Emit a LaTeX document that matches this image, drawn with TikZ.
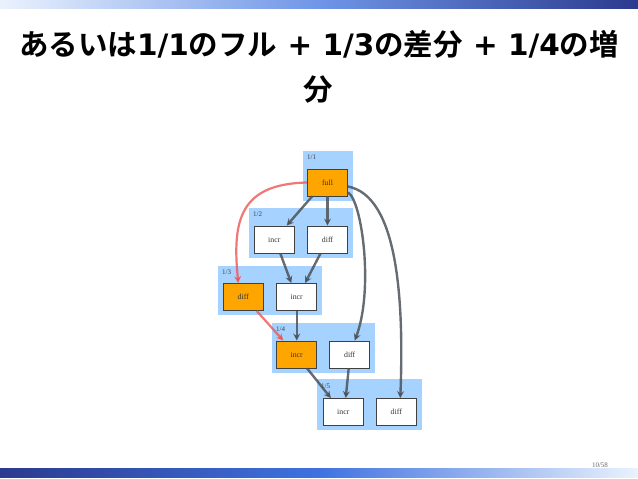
\documentclass[tikz,border=0pt]{standalone}
\usepackage{fontspec}
\setmainfont{DejaVu Sans}
\newfontfamily\jp{Noto Sans CJK JP}[BoldFont={Noto Sans CJK JP Bold}]
\newfontfamily\lbl{Liberation Serif}
\usetikzlibrary{arrows.meta,calc}
\definecolor{clusterblue}{HTML}{A6D2FF}
\definecolor{nodeorange}{HTML}{FFA500}
\definecolor{edgegray}{HTML}{4C5259}
\definecolor{edgered}{HTML}{EE5555}
\definecolor{navy}{HTML}{2B3A8E}
\definecolor{midblue}{HTML}{3F72E0}
\definecolor{paleblue}{HTML}{EAF2FD}
\tikzset{
  cluster/.style={fill=clusterblue, draw=none},
  clabel/.style={font=\lbl\fontsize{7}{8}\selectfont, text=black!75, inner sep=0pt, anchor=west},
  opbox/.style={draw=black!75, line width=0.8pt, fill=white, minimum width=40pt, minimum height=27pt, inner sep=0pt, font=\lbl\fontsize{7.8}{9}\selectfont, text=black!80},
  hot/.style={opbox, fill=nodeorange},
  edge/.style={draw=edgegray, line width=2.4pt, draw opacity=0.85, -{Stealth[length=7pt,width=7pt]}},
  redge/.style={draw=edgered, line width=2.2pt, draw opacity=0.8, -{Stealth[length=7pt,width=7pt]}},
  titletext/.style={font=\bfseries\fontsize{29.5}{34}\selectfont, inner sep=0pt, anchor=base},
}
\begin{document}
\begin{tikzpicture}[x=1pt,y=-1pt]
\useasboundingbox (0,0) rectangle (638,479);
% bars
\shade[left color=paleblue, right color=navy, middle color=midblue!75] (0,0) rectangle (638,8);
\shade[left color=navy, right color=paleblue, middle color=midblue] (0,468) rectangle (638,477);
% title
\node[titletext] (t1) at (319,56) {{\jp あるいは}1/1{\jp のフル} + 1/3{\jp の差分} + 1/4{\jp の増}};
\node[titletext] (t2) at (318,100) {{\jp 分}};
\node[font=\lbl\fontsize{7}{8}\selectfont, text=black!60] (pg) at (600,465) {10/58};
% clusters
\fill[cluster] (303,151) rectangle (353,201);
\fill[cluster] (249,208) rectangle (353,258);
\fill[cluster] (218,266) rectangle (322,315);
\fill[cluster] (272,323) rectangle (375,373);
\fill[cluster] (317,379) rectangle (422,430);
\node[clabel] (c1) at (307,157) {1/1};
\node[clabel] (c2) at (253,214) {1/2};
\node[clabel] (c3) at (222,272) {1/3};
\node[clabel] (c4) at (276,329) {1/4};
\node[clabel] (c5) at (321,386) {1/5};
% nodes
\node[hot] (full) at (327.5,182.5) {full};
\node[opbox] (incr2) at (274.3,239.5) {incr};
\node[opbox] (diff2) at (327.5,239.5) {diff};
\node[hot] (diff3) at (243.3,297) {diff};
\node[opbox] (incr3) at (296.7,297) {incr};
\node[hot] (incr4) at (296.7,354.5) {incr};
\node[opbox] (diff4) at (349.7,354.5) {diff};
\node[opbox] (incr5) at (343.3,412) {incr};
\node[opbox] (diff5) at (396.3,412) {diff};
% edges
\draw[edge] ($(full.south west)+(5,0)$) -- ($(incr2.north east)+(-8,0)$);
\draw[edge] (full.south) -- (diff2.north);
\draw[edge] ($(full.south east)+(0,-4)$) .. controls (362,200) and (374,290) .. ($(diff4.north)+(5,0)$);
\draw[edge] ($(full.east)+(0,4)$) .. controls (398,196) and (404,300) .. ($(diff5.north)+(4,0)$);
\draw[redge] (full.west) .. controls (240,184) and (232,220) .. ($(diff3.north)+(-5,0)$);
\draw[edge] ($(incr2.south)+(6,0)$) -- ($(incr3.north west)+(15,0)$);
\draw[edge] ($(diff2.south)+(-7,0)$) -- ($(incr3.north east)+(-12,0)$);
\draw[redge] ($(diff3.south east)+(-7,0)$) -- ($(incr4.north west)+(7,0)$);
\draw[edge] (incr3.south) -- (incr4.north);
\draw[edge] ($(incr4.south east)+(-10,0)$) -- ($(incr5.north west)+(8,0)$);
\draw[edge] ($(diff4.south)+(-1,0)$) -- ($(incr5.north east)+(-18,0)$);
\end{tikzpicture}
\end{document}
